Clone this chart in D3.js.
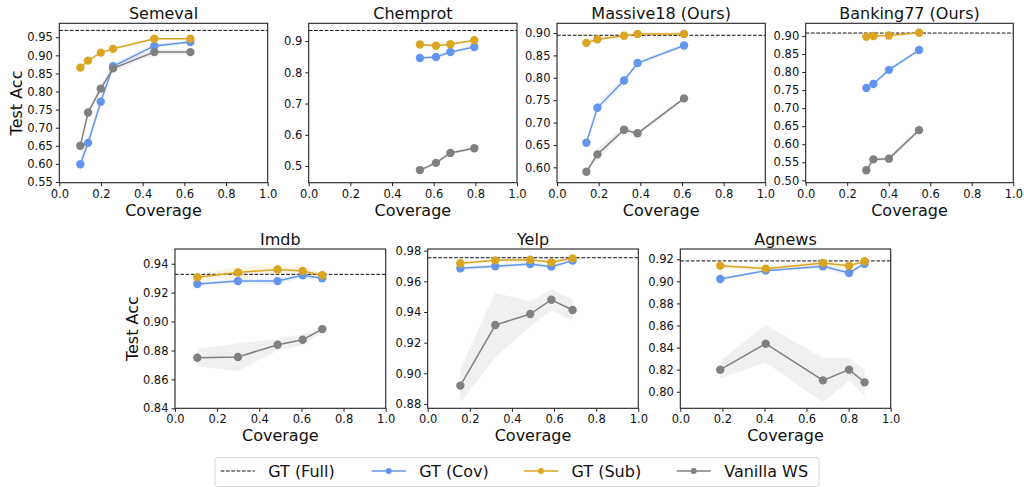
<!DOCTYPE html>
<html>
<head>
<meta charset="utf-8">
<script src="https://cdn.jsdelivr.net/npm/d3@7"></script>
<style>
  body { margin: 0; background: #fff; }
  svg { font-family: "DejaVu Sans", sans-serif; }
</style>
</head>
<body>
<svg width="1024" height="487"></svg>
<script>
// data
const datasets = ["Semeval", "Chemprot", "Massive18 (Ours)", "Banking77 (Ours)", "Imdb", "Yelp", "Agnews"];
const coverage = [
  [0.101, 0.138, 0.199, 0.258, 0.456, 0.629],
  [0.534, 0.611, 0.680, 0.795],
  [0.141, 0.194, 0.322, 0.387, 0.610],
  [0.292, 0.326, 0.401, 0.546],
  [0.106, 0.299, 0.487, 0.606, 0.699],
  [0.155, 0.321, 0.487, 0.587, 0.688],
  [0.190, 0.406, 0.678, 0.802, 0.876]
];
const gtFull = [0.969, 0.934, 0.895, 0.908, 0.9327, 0.9754, 0.9185];
const gtCov = [
  [0.599, 0.658, 0.772, 0.870, 0.926, 0.937],
  [0.846, 0.849, 0.865, 0.881],
  [0.655, 0.733, 0.794, 0.833, 0.872],
  [0.756, 0.767, 0.806, 0.861],
  [0.926, 0.928, 0.928, 0.932, 0.930],
  [0.9685, 0.9698, 0.9713, 0.9696, 0.9735],
  [0.9021, 0.9097, 0.9136, 0.9076, 0.916]
];
const gtSub = [
  [0.866, 0.8855, 0.9076, 0.918, 0.946, 0.946],
  [0.889, 0.885, 0.890, 0.903],
  [0.878, 0.886, 0.894, 0.898, 0.898],
  [0.898, 0.900, 0.901, 0.909],
  [0.9306, 0.934, 0.936, 0.935, 0.932],
  [0.9718, 0.9737, 0.9741, 0.9724, 0.975],
  [0.9142, 0.9115, 0.9166, 0.9142, 0.9182]
];
const vanillaWS = [
  [0.650, 0.742, 0.808, 0.864, 0.909, 0.909],
  [0.487, 0.510, 0.542, 0.557],
  [0.590, 0.629, 0.684, 0.676, 0.754],
  [0.528, 0.558, 0.560, 0.639],
  [0.875, 0.8755, 0.884, 0.8874, 0.8948],
  [0.892, 0.9315, 0.9387, 0.948, 0.9413],
  [0.820, 0.8435, 0.8103, 0.820, 0.8085]
];
// spread (shaded bands)
const covStd = [
  [0.025, 0.012, 0.012, 0.008, 0.006, 0.004],
  [0.005, 0.005, 0.005, 0.004],
  [0.005, 0.01, 0.008, 0.005, 0.004],
  [0.004, 0.005, 0.006, 0.004],
  [0.001, 0.0015, 0.002, 0.0015, 0.001],
  [0.0012, 0.0012, 0.0015, 0.0015, 0.001],
  [0.002, 0.001, 0.002, 0.003, 0.001]
];
const subStd = [
  [0.004, 0.004, 0.003, 0.003, 0.003, 0.003],
  [0.004, 0.004, 0.004, 0.004],
  [0.004, 0.004, 0.004, 0.004, 0.004],
  [0.003, 0.003, 0.003, 0.003],
  [0.002, 0.004, 0.002, 0.003, 0.002],
  [0.001, 0.001, 0.001, 0.001, 0.001],
  [0.002, 0.002, 0.003, 0.002, 0.001]
];
const wsStd = [
  [0.006, 0.012, 0.012, 0.008, 0.008, 0.007],
  [0.006, 0.006, 0.006, 0.004],
  [0.005, 0.012, 0.008, 0.005, 0.004],
  [0.004, 0.005, 0.005, 0.004],
  [0.006, 0.0095, 0.004, 0.004, 0.002],
  [0.011, 0.021, 0.008, 0.007, 0.007],
  [0.008, 0.017, 0.02, 0.01, 0.012]
];
const yDomains = [
  [0.548, 0.9886], [0.4466, 0.957], [0.5657, 0.9217], [0.4934, 0.935],
  [0.84, 0.9502], [0.8772, 0.9811], [0.785, 0.9293]
];
const yTicks = [
  [0.55, 0.60, 0.65, 0.70, 0.75, 0.80, 0.85, 0.90, 0.95],
  [0.5, 0.6, 0.7, 0.8, 0.9],
  [0.60, 0.65, 0.70, 0.75, 0.80, 0.85, 0.90],
  [0.50, 0.55, 0.60, 0.65, 0.70, 0.75, 0.80, 0.85, 0.90],
  [0.84, 0.86, 0.88, 0.90, 0.92, 0.94],
  [0.88, 0.90, 0.92, 0.94, 0.96, 0.98],
  [0.80, 0.82, 0.84, 0.86, 0.88, 0.90, 0.92]
];
const yFormats = [".2f", ".1f", ".2f", ".2f", ".2f", ".2f", ".2f"];
const xTicks = [0, 0.2, 0.4, 0.6, 0.8, 1.0];
const seriesNames = ["GT (Full)", "GT (Cov)", "GT (Sub)", "Vanilla WS"];

// panel boxes
const boxes = [
  { l: 59.3, r: 267.7, t: 23.3, b: 182.7 },
  { l: 308.7, r: 517, t: 23.3, b: 182.7 },
  { l: 557, r: 765.3, t: 23.3, b: 182.7 },
  { l: 805.7, r: 1013.3, t: 23.3, b: 182.7 },
  { l: 175, r: 385.7, t: 249, b: 408.3 },
  { l: 427.7, r: 638.3, t: 249, b: 408.3 },
  { l: 680.3, r: 890.7, t: 249, b: 408.3 }
];

const colors = { cov: "#6495ED", sub: "#DAA520", ws: "#808080" };
const svg = d3.select("svg");

datasets.forEach((name, i) => {
  const bx = boxes[i];
  const x = d3.scaleLinear().domain([0, 1]).range([bx.l, bx.r]);
  const y = d3.scaleLinear().domain(yDomains[i]).range([bx.b, bx.t]);
  const g = svg.append("g");

  const series = [
    { vals: gtCov[i], std: covStd[i], color: colors.cov },
    { vals: gtSub[i], std: subStd[i], color: colors.sub },
    { vals: vanillaWS[i], std: wsStd[i], color: colors.ws }
  ];

  // bands
  series.forEach((s) => {
    const pts = coverage[i].map((c, k) => ({ c, v: s.vals[k], sd: s.std[k] }));
    g.append("path")
      .attr("d", d3.area().x((d) => x(d.c)).y0((d) => y(d.v - d.sd)).y1((d) => y(d.v + d.sd))(pts))
      .attr("fill", s.color)
      .attr("fill-opacity", 0.12);
  });

  // full-data reference
  g.append("line")
    .attr("x1", bx.l).attr("x2", bx.r)
    .attr("y1", y(gtFull[i])).attr("y2", y(gtFull[i]))
    .attr("stroke", "#111").attr("stroke-width", 1)
    .attr("stroke-dasharray", "3.7,1.6");

  series.forEach((s) => {
    const pts = coverage[i].map((c, k) => ({ c, v: s.vals[k] }));
    g.append("path")
      .attr("d", d3.line().x((d) => x(d.c)).y((d) => y(d.v))(pts))
      .attr("fill", "none")
      .attr("stroke", s.color)
      .attr("stroke-width", 1.5);
    g.selectAll(null).data(pts).enter().append("circle")
      .attr("cx", (d) => x(d.c)).attr("cy", (d) => y(d.v))
      .attr("r", 4.2).attr("fill", s.color);
  });

  // axes
  const xa = g.append("g").attr("transform", `translate(0,${bx.b})`)
    .call(d3.axisBottom(x).tickValues(xTicks).tickFormat(d3.format(".1f")).tickSize(3.5).tickPadding(3.5));
  const ya = g.append("g").attr("transform", `translate(${bx.l},0)`)
    .call(d3.axisLeft(y).tickValues(yTicks[i]).tickFormat(d3.format(yFormats[i])).tickSize(3.5).tickPadding(3));
  [xa, ya].forEach((a) => {
    a.select(".domain").remove();
    a.selectAll("line").attr("stroke", "#222").attr("stroke-width", 1);
    a.selectAll("text").attr("font-size", 11.5).attr("fill", "#111")
      .attr("font-family", "DejaVu Sans");
  });

  g.append("rect")
    .attr("x", bx.l).attr("y", bx.t)
    .attr("width", bx.r - bx.l).attr("height", bx.b - bx.t)
    .attr("fill", "none").attr("stroke", "#222").attr("stroke-width", 1.1);

  g.append("text")
    .attr("x", (bx.l + bx.r) / 2).attr("y", bx.t - 4.5)
    .attr("text-anchor", "middle").attr("font-size", 16).attr("fill", "#111")
    .text(name);

  g.append("text")
    .attr("x", (bx.l + bx.r) / 2).attr("y", bx.b + 33)
    .attr("text-anchor", "middle").attr("font-size", 16).attr("fill", "#111")
    .text("Coverage");

  if (i === 0 || i === 4) {
    g.append("text")
      .attr("transform", `translate(${bx.l - 37},${(bx.t + bx.b) / 2}) rotate(-90)`)
      .attr("text-anchor", "middle").attr("font-size", 16).attr("fill", "#111")
      .text("Test Acc");
  }
});

// legend
const leg = svg.append("g");
leg.append("rect")
  .attr("x", 215).attr("y", 457.5).attr("width", 604).attr("height", 29)
  .attr("rx", 2.5).attr("fill", "#fff").attr("stroke", "#d6d6d6").attr("stroke-width", 1);
const legX = [220.7, 371.7, 524, 676.7];
const legColors = ["#111", colors.cov, colors.sub, colors.ws];
seriesNames.forEach((n, k) => {
  const x0 = legX[k];
  leg.append("line")
    .attr("x1", x0).attr("x2", x0 + 34).attr("y1", 471).attr("y2", 471)
    .attr("stroke", legColors[k])
    .attr("stroke-width", k === 0 ? 1 : 1.5)
    .attr("stroke-dasharray", k === 0 ? "3.7,1.6" : null);
  if (k > 0) {
    leg.append("circle").attr("cx", x0 + 17).attr("cy", 471).attr("r", 3).attr("fill", legColors[k]);
  }
  leg.append("text")
    .attr("x", x0 + 47.5).attr("y", 476.5)
    .attr("font-size", 16).attr("fill", "#111")
    .text(n);
});
</script>
</body>
</html>
